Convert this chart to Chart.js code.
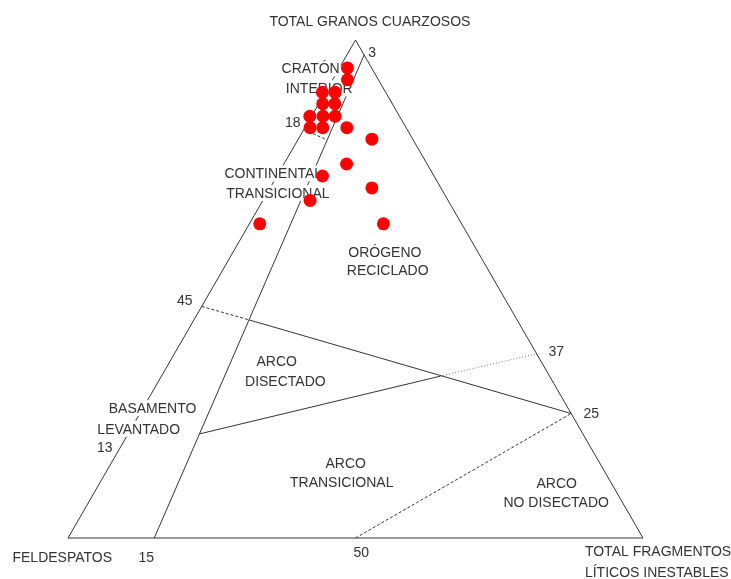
<!DOCTYPE html>
<html lang="es">

<head>
    <meta charset="UTF-8" />
    <title>Diagrama QFL</title>
    <script src="https://cdn.jsdelivr.net/npm/chart.js"></script>
    <style>
        html, body { margin: 0; padding: 0; background: #fff; }
        #wrap { width: 731px; height: 579px; }
    </style>
</head>

<body>
    <div id="wrap"><canvas id="qfl"></canvas></div>

    <script>
        // composición de las muestras (%): cuarzo, feldespato, líticos
        // (dos puntos caen apenas fuera del lado Q-F en la figura original)
        const quartz   = [94.4, 92.0, 89.5, 89.5, 87.2, 87.2, 84.7, 84.7, 84.7, 82.4, 82.4, 82.4, 80.1, 75.1, 72.7, 70.3, 67.8, 63.1, 63.1];
        const feldspar = [4.2, 5.4, 11.0, 8.8, 12.1, 10.0, 15.6, 13.3, 11.2, 16.7, 14.5, 10.3, 7.1, 14.0, 19.4, 12.0, 24.0, 35.1, 13.6];
        const lithics  = [1.4, 2.6, -0.5, 1.7, 0.7, 2.8, -0.3, 2.0, 4.1, 0.9, 3.1, 7.3, 12.8, 10.9, 7.9, 17.7, 8.2, 1.8, 23.3];

        // límites de campos (Q, F, L)
        const outline          = [[100, 0, 0], [0, 100, 0], [0, 0, 100], [100, 0, 0]];
        const cratonLimit      = [[97, 0, 3], [0, 85, 15]];
        const cratonTransLimit = [[82, 18, 0], [80, 15, 5]];
        const orogenLimitA     = [[46.5, 53.5, 0], [43.8, 46.6, 9.6]];
        const orogenLimitB     = [[43.8, 46.6, 9.6], [25, 0, 75]];
        const arcLimitA        = [[20.9, 66.7, 12.4], [32.5, 19.0, 48.5]];
        const arcLimitB        = [[32.5, 19.0, 48.5], [37, 0, 63]];
        const undissectedLimit = [[0, 50, 50], [25, 0, 75]];

        // ternario -> cartesiano (F en el origen, L a la derecha, Q arriba)
        const H = Math.sqrt(3) / 2;
        function toXY(q, f, l) {
            const s = q + f + l;
            q = q * 100 / s; l = l * 100 / s;
            return { x: l + q / 2, y: q * H };
        }
        const path = pts => pts.map(p => toXY(p[0], p[1], p[2]));

        const samples = quartz.map((q, i) => toXY(q, feldspar[i], lithics[i]));

        const ink = '#333';
        function edge(pts, dash, color) {
            return {
                type: 'line', data: path(pts), showLine: true, pointRadius: 0,
                borderColor: color || ink, borderWidth: 1, borderDash: dash || [], fill: false
            };
        }

        // textos: [texto, x, y, alineación] en unidades del diagrama
        const texts = [
            ['TOTAL GRANOS CUARZOSOS', 52.5, 89.9, 'center'],
            ['3', 52.9, 84.5, 'center'],
            ['CRATÓN', 42.2, 81.7, 'center'],
            ['INTERIOR', 43.7, 78.2, 'center'],
            ['18', 39.1, 72.3, 'center'],
            ['CONTINENTAL', 35.7, 63.4, 'center'],
            ['TRANSICIONAL', 36.5, 60.0, 'center'],
            ['ORÓGENO', 55.1, 49.8, 'center'],
            ['RECICLADO', 55.6, 46.6, 'center'],
            ['45', 20.3, 41.4, 'center'],
            ['ARCO', 36.3, 30.7, 'center'],
            ['DISECTADO', 37.8, 27.2, 'center'],
            ['37', 84.9, 32.5, 'center'],
            ['BASAMENTO', 14.7, 22.6, 'center'],
            ['LEVANTADO', 12.3, 19.0, 'center'],
            ['13', 6.4, 15.8, 'center'],
            ['25', 91.0, 21.8, 'center'],
            ['ARCO', 48.3, 13.0, 'center'],
            ['TRANSICIONAL', 47.6, 9.7, 'center'],
            ['ARCO', 85.0, 9.6, 'center'],
            ['NO DISECTADO', 84.9, 6.3, 'center'],
            ['FELDESPATOS', -1.0, -3.3, 'center'],
            ['15', 13.6, -3.3, 'center'],
            ['50', 51.0, -2.4, 'center'],
            ['TOTAL FRAGMENTOS', 89.9, -2.3, 'left'],
            ['LÍTICOS INESTABLES', 89.9, -5.9, 'left']
        ];

        const fieldLabels = {
            id: 'fieldLabels',
            beforeDatasetDraw(chart, args) {
                if (args.index !== 0) return;
                const { ctx, scales } = chart;
                ctx.save();
                ctx.font = '14px "Liberation Sans", Arial, sans-serif';
                ctx.textBaseline = 'middle';
                texts.forEach(([t, x, y, align]) => {
                    const px = scales.x.getPixelForValue(x);
                    const py = scales.y.getPixelForValue(y);
                    const w = ctx.measureText(t).width;
                    const x0 = align === 'left' ? px : px - w / 2;
                    ctx.fillStyle = '#fff';
                    ctx.fillRect(x0 - 1, py - 8, w + 2, 16);
                    ctx.fillStyle = ink;
                    ctx.textAlign = 'left';
                    ctx.fillText(t, x0, py + 1);
                });
                ctx.restore();
            }
        };

        new Chart(document.getElementById('qfl'), {
            type: 'scatter',
            data: {
                datasets: [
                    { data: samples, pointRadius: 6.5, pointHoverRadius: 6.5, backgroundColor: '#ff0000', borderWidth: 0 },
                    edge(outline),
                    edge(cratonLimit),
                    edge(cratonTransLimit, [3, 2]),
                    edge(orogenLimitA, [3, 2]),
                    edge(orogenLimitB),
                    edge(arcLimitA),
                    edge(arcLimitB, [1, 2], '#777'),
                    edge(undissectedLimit, [3, 2])
                ]
            },
            options: {
                responsive: true,
                maintainAspectRatio: false,
                animation: false,
                layout: { padding: 0, autoPadding: false },
                plugins: { legend: { display: false }, tooltip: { enabled: false } },
                scales: {
                    x: { type: 'linear', display: false, min: -68 / 5.75, max: (731 - 68) / 5.75 },
                    y: { type: 'linear', display: false, min: -(579 - 538) / 5.75, max: 538 / 5.75 }
                }
            },
            plugins: [fieldLabels]
        });
    </script>
</body>

</html>
